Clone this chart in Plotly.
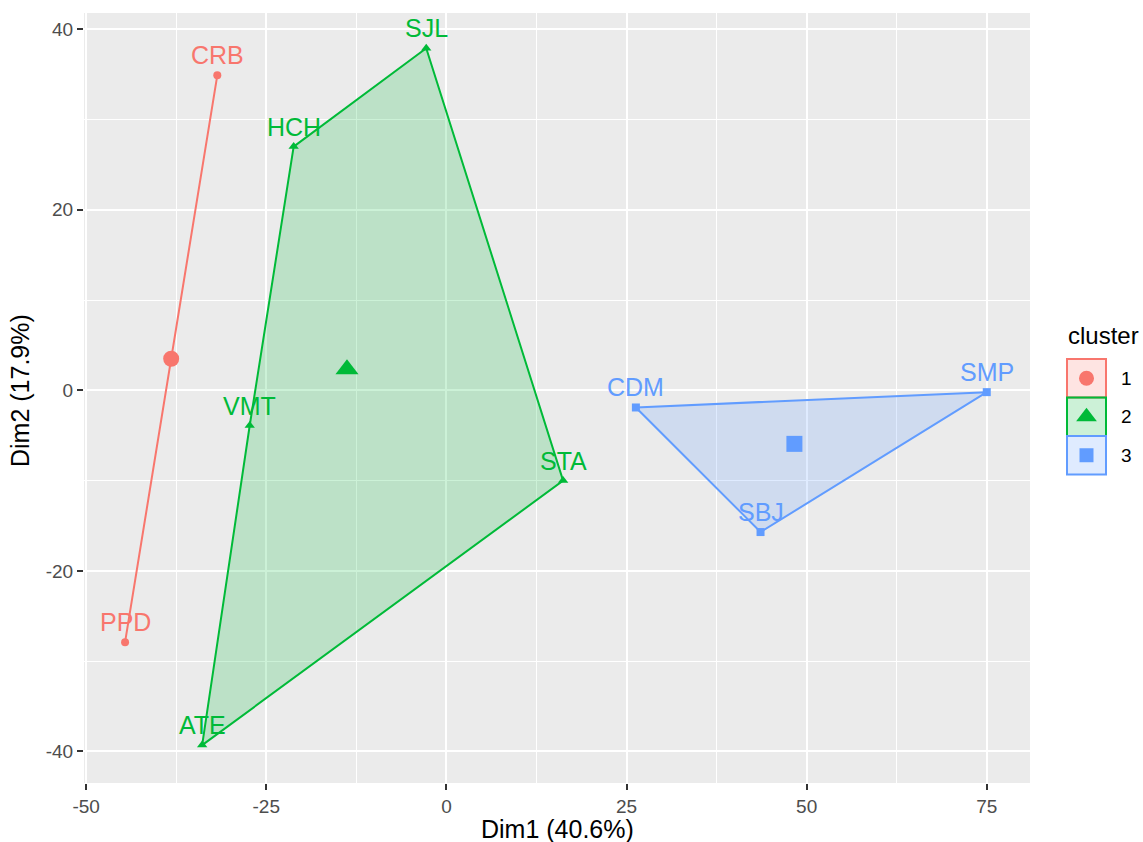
import plotly.graph_objects as go

# ---------------- data ----------------
names = ["CRB", "PPD", "SJL", "HCH", "VMT", "STA", "ATE", "CDM", "SMP", "SBJ"]
dim1 = [-31.8, -44.6, -2.8, -21.2, -27.3, 16.2, -33.9, 26.3, 75.0, 43.6]
dim2 = [34.9, -27.9, 37.9, 27.0, -3.9, -10.0, -39.3, -1.9, -0.2, -15.7]
cluster = ["1", "1", "2", "2", "2", "2", "2", "3", "3", "3"]

cluster_ids = ["1", "2", "3"]
center_x = [-38.2, -13.8, 48.3]
center_y = [3.5, 2.34, -5.93]
hull_order = {
    "1": ["CRB", "PPD"],
    "2": ["SJL", "HCH", "VMT", "ATE", "STA"],
    "3": ["CDM", "SMP", "SBJ"],
}

x_ticks = [-50, -25, 0, 25, 50, 75]
y_ticks = [-40, -20, 0, 20, 40]
x_title = "Dim1 (40.6%)"
y_title = "Dim2 (17.9%)"
legend_title = "cluster"

# ---------------- style ----------------
colors = {"1": "#F8766D", "2": "#00BA38", "3": "#619CFF"}
fills = {"1": "rgba(248,118,109,0.2)", "2": "rgba(0,186,56,0.2)", "3": "rgba(97,156,255,0.2)"}
symbols = {"1": "circle", "2": "triangle-up", "3": "square"}
FONT = "Liberation Sans, Arial, sans-serif"

W, H = 1143, 842
px_l, px_r, px_t, px_b = 84, 1030, 13, 783

fig = go.Figure()

idx = {n: i for i, n in enumerate(names)}

# panel background (only for main panel), drawn beneath grid lines
fig.add_shape(type="rect", xref="x domain", yref="y domain", x0=0, x1=1, y0=0, y1=1,
              fillcolor="#EBEBEB", line=dict(width=0), layer="below")

# hulls
for c in cluster_ids:
    order = hull_order[c]
    hx = [dim1[idx[n]] for n in order] + [dim1[idx[order[0]]]]
    hy = [dim2[idx[n]] for n in order] + [dim2[idx[order[0]]]]
    fig.add_trace(go.Scatter(
        x=hx, y=hy, mode="lines", fill="toself" if len(order) > 2 else None,
        fillcolor=fills[c], line=dict(color=colors[c], width=2),
        hoverinfo="skip", showlegend=False))

# points
for c in cluster_ids:
    xs = [dim1[i] for i in range(len(names)) if cluster[i] == c]
    ys = [dim2[i] for i in range(len(names)) if cluster[i] == c]
    fig.add_trace(go.Scatter(
        x=xs, y=ys, mode="markers",
        marker=dict(symbol=symbols[c], color=colors[c], size=9 if c == "2" else 8,
                    line=dict(width=0)),
        showlegend=False))

# centers
for k, c in enumerate(cluster_ids):
    fig.add_trace(go.Scatter(
        x=[center_x[k]], y=[center_y[k]], mode="markers",
        marker=dict(symbol=symbols[c], color=colors[c],
                    size={"1": 16, "2": 20, "3": 16}[c], line=dict(width=0)),
        showlegend=False))

# point labels
for i, n in enumerate(names):
    fig.add_annotation(x=dim1[i], y=dim2[i], text=n, showarrow=False,
                       yshift=20, xanchor="center", yanchor="middle",
                       font=dict(family=FONT, size=25, color=colors[cluster[i]]))

# ---------------- custom legend (axis pair in pixel units) ----------------
lx0, lx1 = 1040, 1143
ly0, ly1 = 320, 480
key_left, key_right = 1067, 1106
key_top, key_h = 359, 38.5
for k, c in enumerate(cluster_ids):
    y0 = key_top + k * key_h
    y1 = y0 + key_h
    fig.add_shape(type="rect", xref="x2", yref="y2", x0=key_left, x1=key_right,
                  y0=y0, y1=y1, fillcolor=fills[c], line=dict(color=colors[c], width=2),
                  layer="below")
    fig.add_trace(go.Scatter(
        x=[(key_left + key_right) / 2], y=[(y0 + y1) / 2], xaxis="x2", yaxis="y2",
        mode="markers", marker=dict(symbol=symbols[c], color=colors[c],
                                    size={"1": 15, "2": 18, "3": 14}[c]),
        hoverinfo="skip", showlegend=False))
    fig.add_annotation(x=1119, y=(y0 + y1) / 2, xref="x2", yref="y2", text=c,
                       showarrow=False, xanchor="left", yanchor="middle",
                       font=dict(family=FONT, size=19, color="#000000"))
fig.add_annotation(x=1066, y=336, xref="x2", yref="y2", text=legend_title,
                   showarrow=False, xanchor="left", yanchor="middle",
                   font=dict(family=FONT, size=24, color="#000000"))

# axis titles
fig.add_annotation(x=(px_l + px_r) / 2 / W, y=1 - 829 / H, xref="paper", yref="paper",
                   text=x_title, showarrow=False, xanchor="center", yanchor="middle",
                   font=dict(family=FONT, size=25, color="#000000"))
fig.add_annotation(x=20 / W, y=1 - 391 / H, xref="paper", yref="paper",
                   text=y_title, showarrow=False, textangle=-90,
                   xanchor="center", yanchor="middle",
                   font=dict(family=FONT, size=25, color="#000000"))

axis_common = dict(
    showgrid=True, gridcolor="#FFFFFF", gridwidth=2, zeroline=False,
    ticks="outside", ticklen=6, tickwidth=1.5, tickcolor="#333333",
    tickfont=dict(family=FONT, size=19, color="#4D4D4D"),
    showline=False, automargin=False,
)

fig.update_layout(
    width=W, height=H,
    margin=dict(l=0, r=0, t=0, b=0),
    paper_bgcolor="#FFFFFF", plot_bgcolor="rgba(0,0,0,0)",
    xaxis=dict(domain=[px_l / W, px_r / W], range=[-50.3, 81.0],
               tickvals=x_ticks, ticktext=[str(v) for v in x_ticks],
               minor=dict(tickvals=[-37.5, -12.5, 12.5, 37.5, 62.5], showgrid=True,
                          gridcolor="#FFFFFF", gridwidth=1, ticks=""),
               **axis_common),
    yaxis=dict(domain=[1 - px_b / H, 1 - px_t / H], range=[-43.5, 41.8],
               tickvals=y_ticks, ticktext=[str(v) for v in y_ticks],
               minor=dict(tickvals=[-30, -10, 10, 30], showgrid=True,
                          gridcolor="#FFFFFF", gridwidth=1, ticks=""),
               **axis_common),
    xaxis2=dict(domain=[lx0 / W, lx1 / W], range=[lx0, lx1], visible=False,
                showgrid=False, anchor="y2", fixedrange=True),
    yaxis2=dict(domain=[1 - ly1 / H, 1 - ly0 / H], range=[ly1, ly0], visible=False,
                showgrid=False, anchor="x2", fixedrange=True),
    showlegend=False,
)

fig.write_html("out.html", config={"displayModeBar": False},
               post_script="document.body.style.margin='0px';")
